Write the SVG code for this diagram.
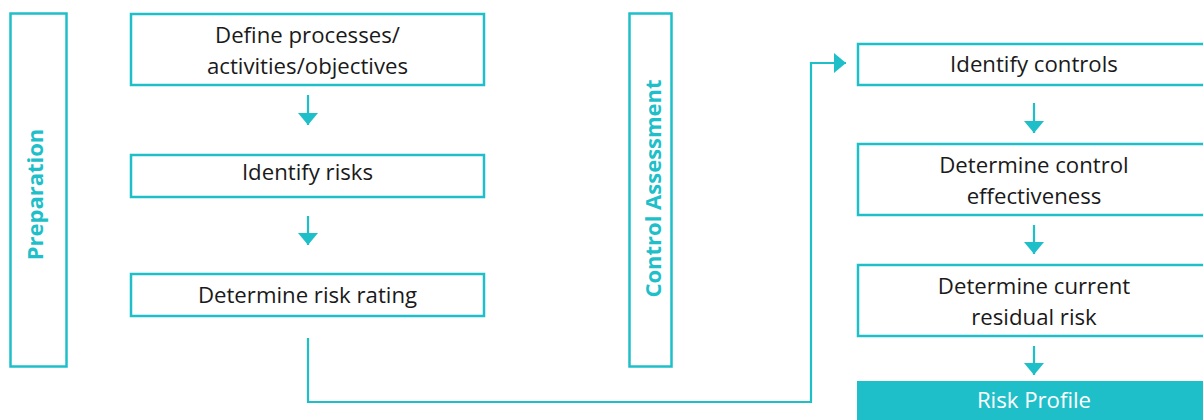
<svg xmlns="http://www.w3.org/2000/svg" width="1203" height="420" viewBox="0 0 1203 420">
<style>
.box{fill:#ffffff;stroke:#1fbfca;stroke-width:2.5}
.t{font-family:"Open Sans",sans-serif;font-size:22.2px;fill:#1a1a1a;text-anchor:middle}
.v{font-family:"Open Sans",sans-serif;font-size:22px;font-weight:bold;fill:#1fbfca;text-anchor:middle}
.c{fill:none;stroke:#1fbfca;stroke-width:2.2}
</style>
<defs>
<marker id="ah" viewBox="0 0 12 20" refX="12" refY="10" markerWidth="12" markerHeight="20" markerUnits="userSpaceOnUse" orient="auto">
<path d="M0,0 L12,10 L0,20 z" fill="#1fbfca"/>
</marker>
</defs>
<rect width="1203" height="420" fill="#ffffff"/>
<g id="preparation">
<rect class="box" x="10.5" y="13.5" width="56" height="353"/>
<text class="v" transform="translate(43,194.5) rotate(-90)">Preparation</text>
</g>
<g id="control-assessment">
<rect class="box" x="629.5" y="13.5" width="42" height="353"/>
<text class="v" transform="translate(661,188.5) rotate(-90)">Control Assessment</text>
</g>
<g id="define">
<rect class="box" x="131" y="14" width="353" height="71"/>
<text class="t" x="307.5" y="43">Define processes/</text>
<text class="t" x="307.5" y="74">activities/objectives</text>
</g>
<g id="identify-risks">
<rect class="box" x="131" y="155" width="353" height="42"/>
<text class="t" x="307.5" y="180">Identify risks</text>
</g>
<g id="risk-rating">
<rect class="box" x="131" y="274" width="353" height="42"/>
<text class="t" x="307.5" y="303">Determine risk rating</text>
</g>
<g id="identify-controls">
<rect class="box" x="858" y="44" width="354" height="41"/>
<text class="t" x="1034" y="72">Identify controls</text>
</g>
<g id="control-effectiveness">
<rect class="box" x="858" y="144" width="354" height="71"/>
<text class="t" x="1034" y="173">Determine control</text>
<text class="t" x="1034" y="204">effectiveness</text>
</g>
<g id="residual-risk">
<rect class="box" x="858" y="265" width="354" height="71"/>
<text class="t" x="1034" y="294">Determine current</text>
<text class="t" x="1034" y="325">residual risk</text>
</g>
<g id="risk-profile">
<rect x="857" y="381" width="356" height="45" fill="#1fbfca"/>
<text class="t" x="1034" y="408" style="fill:#ffffff">Risk Profile</text>
</g>
<g id="connectors">
<path class="c" d="M308,95 V125" marker-end="url(#ah)"/>
<path class="c" d="M308,216 V245" marker-end="url(#ah)"/>
<path class="c" d="M1034,103 V133" marker-end="url(#ah)"/>
<path class="c" d="M1034,225 V254" marker-end="url(#ah)"/>
<path class="c" d="M1034,346 V375" marker-end="url(#ah)"/>
<path class="c" d="M308,338 V402 H811 V63 H846" marker-end="url(#ah)"/>
</g>
</svg>
